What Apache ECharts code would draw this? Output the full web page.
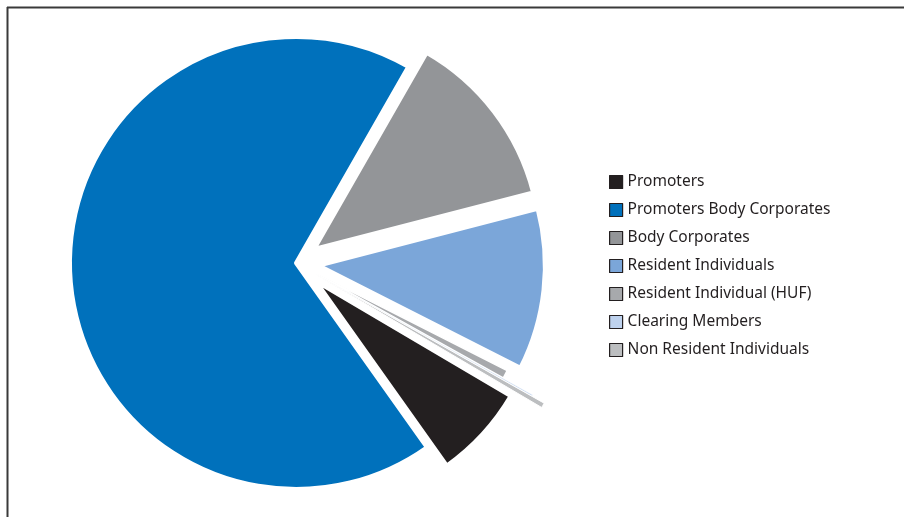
<!DOCTYPE html>
<html>
<head>
<meta charset="utf-8">
<script src="https://cdn.jsdelivr.net/npm/echarts@6/dist/echarts.min.js"></script>
<style>
html,body{margin:0;padding:0;background:#fff;}
#chart{width:904px;height:517px;}
</style>
</head>
<body>
<div id="chart"></div>
<script>
const categories = ['Promoters', 'Promoters Body Corporates', 'Body Corporates', 'Resident Individuals', 'Resident Individual (HUF)', 'Clearing Members', 'Non Resident Individuals'];
const values = [6.7, 68.1, 12.7, 11.5, 0.62, 0.08, 0.3];
const colors = ['#231f20', '#0071bc', '#939598', '#7ba6d9', '#a7a9ac', '#bed2ee', '#bcbec0'];

const CENTER = [296, 263];
const START = -30.5;

function makeData(visible, selected) {
  return categories.map(function (name, i) {
    const vis = visible.indexOf(i) >= 0;
    return {
      name: name,
      value: values[i],
      selected: selected.indexOf(i) >= 0,
      itemStyle: vis ? { color: colors[i] } : { color: 'rgba(0,0,0,0)', borderWidth: 0, borderColor: 'rgba(0,0,0,0)' }
    };
  });
}

function pieSeries(visible, selected, radius, offset, borderWidth, z) {
  return {
    type: 'pie',
    center: CENTER,
    radius: radius,
    startAngle: START,
    clockwise: true,
    selectedMode: 'multiple',
    selectedOffset: offset,
    silent: true,
    z: z,
    label: { show: false },
    labelLine: { show: false },
    emphasis: { disabled: true },
    itemStyle: { borderColor: '#ffffff', borderWidth: borderWidth },
    data: makeData(visible, selected)
  };
}

const chart = echarts.init(document.getElementById('chart'), null, { renderer: 'canvas' });
chart.setOption({
  animation: false,
  backgroundColor: '#ffffff',
  legend: {
    orient: 'vertical',
    left: 604,
    top: 168,
    icon: 'rect',
    itemWidth: 13,
    itemHeight: 13,
    itemGap: 10,
    selectedMode: false,
    textStyle: { fontFamily: 'Noto Sans', fontSize: 15.5, color: '#231f20', lineHeight: 18 },
    data: categories.map(function (name, i) {
      return { name: name, itemStyle: { color: colors[i], borderColor: '#231f20', borderWidth: 1.2, opacity: 1 } };
    })
  },
  graphic: [
    { type: 'line', shape: { x1: 7, y1: 7.5, x2: 904, y2: 7.5 }, style: { stroke: '#3a3a3a', lineWidth: 2 } },
    { type: 'line', shape: { x1: 7.5, y1: 7, x2: 7.5, y2: 517 }, style: { stroke: '#3a3a3a', lineWidth: 2 } }
  ],
  series: [
    pieSeries([1, 2, 3], [2, 3], 226, 23, 4, 2),
    pieSeries([0], [0], 226, 27, 4, 2),
    pieSeries([4], [4], 215, 22, 1.5, 3),
    pieSeries([5], [5], 249, 22, 0.5, 3),
    pieSeries([6], [6], 263, 22, 1, 3)
  ]
});
</script>
</body>
</html>
